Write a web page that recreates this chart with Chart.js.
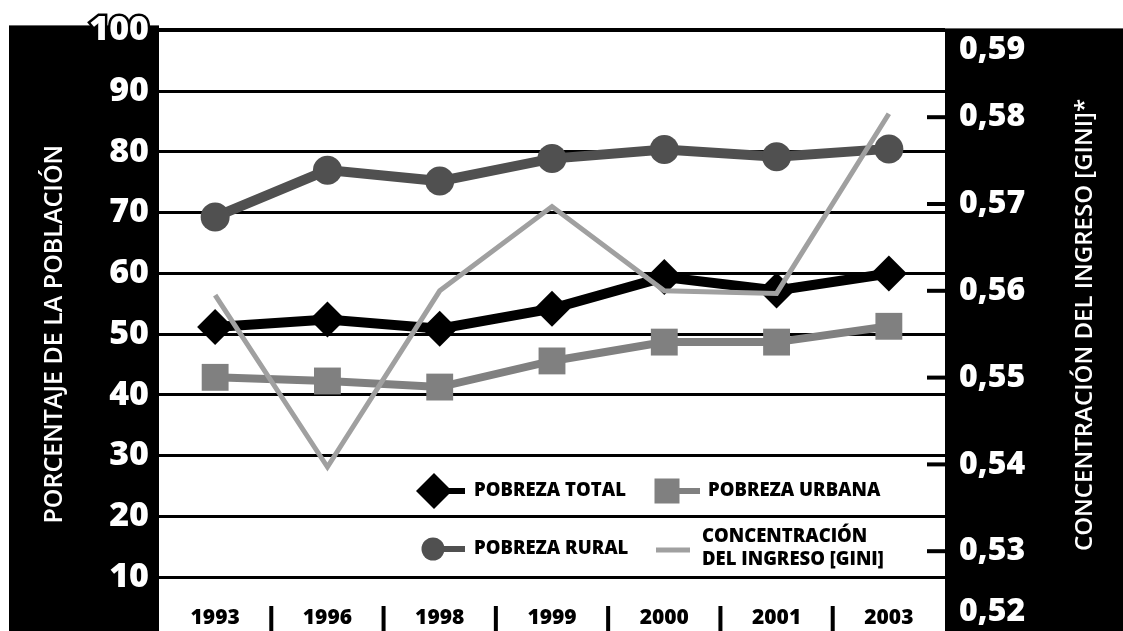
<!DOCTYPE html>
<html>
<head>
<meta charset="utf-8">
<script src="https://cdn.jsdelivr.net/npm/chart.js@4.4.0/dist/chart.umd.min.js"></script>
<style>
  html, body { margin: 0; padding: 0; background: #fff; overflow: hidden; }
  #wrap { position: relative; width: 1123px; height: 680px; }
</style>
</head>
<body>
<div id="wrap"><canvas id="grafico"></canvas></div>
<script>
// datos
const anos = ['1993', '1996', '1998', '1999', '2000', '2001', '2003'];
const pobrezaTotal = [51.2, 52.4, 50.9, 54.2, 59.4, 57.2, 60.0];
const pobrezaUrbana = [42.9, 42.3, 41.3, 45.6, 48.7, 48.7, 51.3];
const pobrezaRural = [69.3, 77.0, 75.2, 78.9, 80.4, 79.2, 80.5];
const gini = [0.5595, 0.5397, 0.5600, 0.5697, 0.5600, 0.5597, 0.5804];

const ticksPorcentaje = [0, 10, 20, 30, 40, 50, 60, 70, 80, 90, 100];
const ticksGini = [0.52, 0.53, 0.54, 0.55, 0.56, 0.57, 0.58, 0.59];

const FUENTE = "'Open Sans', sans-serif";
Chart.defaults.font.family = FUENTE;

// paneles negros a los lados
const paneles = {
    id: 'paneles',
    beforeDraw(chart) {
        const { ctx, chartArea: a } = chart;
        ctx.save();
        ctx.fillStyle = '#000';
        ctx.fillRect(9, a.top - 5, a.left - 9, chart.height);
        ctx.fillRect(a.right, a.top - 2, chart.width - a.right, chart.height);
        ctx.restore();
    }
};

const extras = {
    id: 'extras',
    afterDraw(chart) {
        const { ctx, chartArea: a, scales: { x, yGini } } = chart;
        ctx.save();

        // años y separadores
        ctx.font = '800 21px ' + FUENTE;
        ctx.fillStyle = '#000';
        ctx.textAlign = 'center';
        ctx.textBaseline = 'middle';
        anos.forEach((ano, i) => {
            const px = x.getPixelForValue(i);
            ctx.fillText(ano, px, 618);
            if (i < anos.length - 1) {
                const sep = (px + x.getPixelForValue(i + 1)) / 2;
                ctx.fillRect(sep - 2, 606, 4, 25);
            }
        });

        // eje del gini
        ctx.font = '800 32px ' + FUENTE;
        ctx.textAlign = 'left';
        yGini.ticks.forEach(t => {
            const py = yGini.getPixelForValue(t.value);
            if (t.value > 0.525 && t.value < 0.585) {
                ctx.fillStyle = '#000';
                ctx.fillRect(a.right - 18, py - 2, 18, 4);
            }
            ctx.fillStyle = '#fff';
            ctx.fillText(t.value.toFixed(2).replace('.', ','), a.right + 14, Math.min(Math.max(py, 50), 612));
        });

        ctx.save();
        ctx.translate(1085, 325);
        ctx.rotate(-Math.PI / 2);
        ctx.font = '600 24px ' + FUENTE;
        ctx.textAlign = 'center';
        ctx.fillText('CONCENTRACIÓN DEL INGRESO [GINI]*', 0, 0);
        ctx.restore();

        // leyenda
        const linea = (x1, x2, y, color, grosor) => {
            ctx.strokeStyle = color;
            ctx.lineWidth = grosor;
            ctx.beginPath();
            ctx.moveTo(x1, y);
            ctx.lineTo(x2, y);
            ctx.stroke();
        };
        linea(434, 465, 491, '#000', 6);
        ctx.fillStyle = '#000';
        ctx.beginPath();
        ctx.moveTo(434, 473); ctx.lineTo(452, 491); ctx.lineTo(434, 509); ctx.lineTo(416, 491);
        ctx.closePath();
        ctx.fill();

        linea(667, 700, 491, '#808080', 6);
        ctx.fillStyle = '#808080';
        ctx.fillRect(654.5, 478.5, 25, 25);

        linea(433, 465, 549, '#505050', 6);
        ctx.fillStyle = '#505050';
        ctx.beginPath();
        ctx.arc(433, 549, 11.5, 0, Math.PI * 2);
        ctx.fill();

        linea(656, 690, 550, '#a0a0a0', 5);

        ctx.fillStyle = '#000';
        ctx.font = '800 18.5px ' + FUENTE;
        ctx.textAlign = 'left';
        ctx.fillText('POBREZA TOTAL', 474, 491);
        ctx.fillText('POBREZA URBANA', 708, 491);
        ctx.fillText('POBREZA RURAL', 474, 549);
        ctx.fillText('CONCENTRACIÓN', 702, 537);
        ctx.fillText('DEL INGRESO [GINI]', 702, 560);

        ctx.restore();
    }
};

const ctx = document.getElementById('grafico').getContext('2d');
new Chart(ctx, {
    type: 'line',
    data: {
        labels: anos,
        datasets: [
            {
                label: 'Concentración del ingreso [GINI]',
                data: gini,
                yAxisID: 'yGini',
                borderColor: '#a0a0a0',
                borderWidth: 5,
                pointRadius: 0,
                tension: 0
            },
            {
                label: 'Pobreza rural',
                data: pobrezaRural,
                yAxisID: 'y',
                borderColor: '#505050',
                backgroundColor: '#505050',
                borderWidth: 10,
                pointStyle: 'circle',
                pointRadius: 14.5,
                pointBorderWidth: 0,
                tension: 0
            },
            {
                label: 'Pobreza total',
                data: pobrezaTotal,
                yAxisID: 'y',
                borderColor: '#000',
                backgroundColor: '#000',
                borderWidth: 10,
                pointStyle: 'rectRot',
                pointRadius: 18,
                pointBorderWidth: 0,
                tension: 0
            },
            {
                label: 'Pobreza urbana',
                data: pobrezaUrbana,
                yAxisID: 'y',
                borderColor: '#808080',
                backgroundColor: '#808080',
                borderWidth: 8,
                pointStyle: 'rect',
                pointRadius: 19,
                pointBorderWidth: 0,
                tension: 0
            }
        ]
    },
    options: {
        responsive: true,
        maintainAspectRatio: false,
        animation: false,
        clip: false,
        layout: { padding: { top: 30, bottom: 42, left: 0, right: 0 } },
        plugins: {
            legend: { display: false },
            tooltip: { enabled: false }
        },
        scales: {
            x: {
                display: false,
                offset: true
            },
            y: {
                position: 'left',
                min: 0,
                max: 100,
                afterBuildTicks: s => { s.ticks = ticksPorcentaje.map(v => ({ value: v })); },
                afterFit: s => { s.width = 159; },
                border: { display: false },
                grid: {
                    color: '#000',
                    lineWidth: c => c.tick && c.tick.value === 100 ? 4 : 3,
                    drawTicks: false
                },
                ticks: {
                    color: '#fff',
                    padding: 10,
                    font: { size: 34, weight: '800' },
                    textStrokeColor: '#000',
                    textStrokeWidth: 5,
                    callback: v => v === 0 ? '' : v
                },
                title: {
                    display: true,
                    text: 'PORCENTAJE DE LA POBLACIÓN',
                    color: '#fff',
                    font: { size: 25, weight: '600' },
                    padding: { top: 40, bottom: 0 }
                }
            },
            yGini: {
                position: 'right',
                min: 0.52,
                max: 0.59,
                afterBuildTicks: s => { s.ticks = ticksGini.map(v => ({ value: v })); },
                afterFit: s => { s.width = 178; },
                border: { display: false },
                grid: { display: false },
                ticks: { display: false }
            }
        }
    },
    plugins: [paneles, extras]
});
</script>
</body>
</html>
